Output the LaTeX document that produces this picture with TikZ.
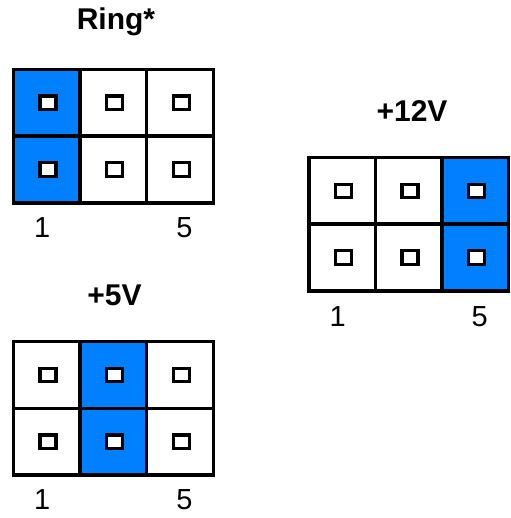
\documentclass[tikz,border=0pt]{standalone}
\usepackage{fontspec}
\setmainfont{Liberation Sans}
\usepackage{xcolor}
\usetikzlibrary{positioning,calc}
\definecolor{jmpblue}{RGB}{0,128,255}

\begin{document}
\begin{tikzpicture}[x=1pt,y=-1pt,every node/.style={outer sep=0pt}]
\tikzstyle{cell}=[draw,line width=3.5pt,minimum width=66.7pt,minimum
height=66.7pt,inner sep=0pt]
\tikzstyle{pin}=[draw,fill=white,line width=3.3pt,minimum width=16pt,
minimum height=13.5pt,inner sep=0pt,xshift=1.3pt]
\tikzstyle{title}=[anchor=base,font=\fontsize{30}{36}\selectfont\bfseries]
\tikzstyle{pinno}=[anchor=base,font=\fontsize{29}{35}\selectfont]
\useasboundingbox (0,0) rectangle (510,518);
%
\begin{scope}[shift={(13.3,69.5)}]
\foreach \c/\f in {1/jmpblue,2/white,3/white}
\foreach \r in {1,2}
{
\node (ring-\c-\r) [cell,fill=\f] at ({(\c-0.5)*66.7},{(\r-0.5)*66.7}) {};
\node (ringpin-\c-\r) [pin] at (ring-\c-\r.center) {};
}
\node (ringT) [title] at ($(ring-2-1.north)+(2.6,-39.5)$) {Ring*};
\node (ring1) [pinno] at ($(ring-1-2.south)+(-4.5,35)$) {1};
\node (ring5) [pinno] at ($(ring-3-2.south)+(4.5,35)$) {5};
\end{scope}
%
\begin{scope}[shift={(309,157.7)}]
\foreach \c/\f in {1/white,2/white,3/jmpblue}
\foreach \r in {1,2}
{
\node (hv-\c-\r) [cell,fill=\f] at ({(\c-0.5)*66.5},{(\r-0.5)*66.5}) {};
\node (hvpin-\c-\r) [pin] at (hv-\c-\r.center) {};
}
\node (hvT) [title] at ($(hv-2-1.north)+(3.3,-36.5)$) {+12V};
\node (hv1) [pinno] at ($(hv-1-2.south)+(-4.5,36)$) {1};
\node (hv5) [pinno] at ($(hv-3-2.south)+(4.5,36)$) {5};
\end{scope}
%
\begin{scope}[shift={(13.3,341.7)}]
\foreach \c/\f in {1/white,2/jmpblue,3/white}
\foreach \r in {1,2}
{
\node (lv-\c-\r) [cell,fill=\f] at ({(\c-0.5)*66.7},{(\r-0.5)*66.7}) {};
\node (lvpin-\c-\r) [pin] at (lv-\c-\r.center) {};
}
\node (lvT) [title] at ($(lv-2-1.north)+(1.2,-36)$) {+5V};
\node (lv1) [pinno] at ($(lv-1-2.south)+(-4.5,34)$) {1};
\node (lv5) [pinno] at ($(lv-3-2.south)+(4.5,34)$) {5};
\end{scope}
\end{tikzpicture}
\end{document}
